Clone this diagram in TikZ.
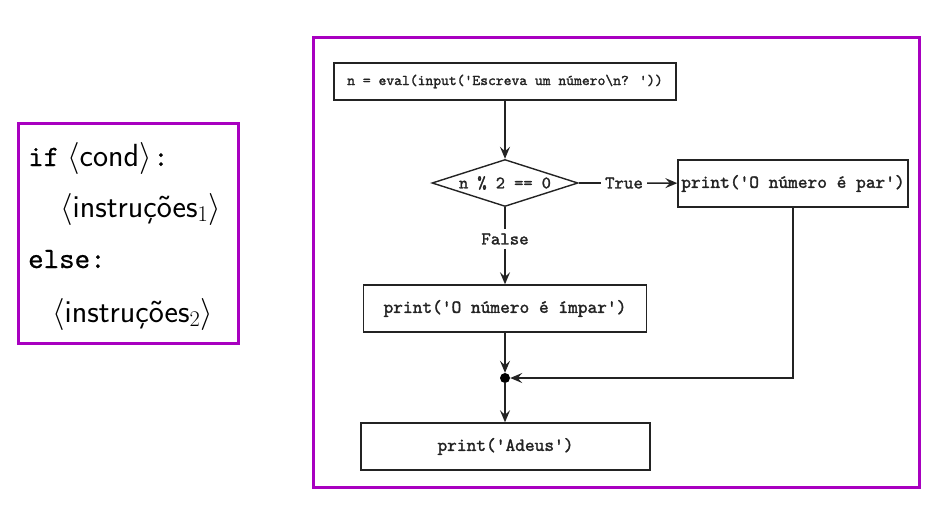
\RequirePackage{fix-cm}
\documentclass[tikz,border=0pt]{standalone}
\usepackage{fontspec}
\newfontfamily\cour{lmmono10-regular.otf}[FakeBold=1.6]
\newfontfamily\courl{lmmono10-regular.otf}[FakeBold=0.7]
\usetikzlibrary{shapes.geometric,arrows.meta}
\definecolor{frame}{RGB}{168,0,192}
\definecolor{ink}{RGB}{35,35,35}
\begin{document}
\begin{tikzpicture}[x=1pt,y=-1pt,
  frm/.style={draw=frame, line width=3pt, rectangle, inner sep=0pt},
  box/.style={draw=ink, line width=1.4pt, rectangle, inner sep=0pt, text=ink},
  lbl/.style={text=ink, inner sep=4pt, font=\cour\fontsize{18}{20}\selectfont},
  ln/.style={draw=ink, line width=1.4pt},
  arr/.style={draw=ink, line width=1.4pt, -{Stealth[length=12pt,width=10pt,inset=4.5pt]}},
  code/.style={anchor=base west, inner sep=0pt, text=black},
  mono/.style={font=\courl\fontsize{29.5}{32}\selectfont},
  sans/.style={font=\sffamily\fontsize{32}{34}\selectfont},
  big/.style={font=\cour\fontsize{18.5}{20}\selectfont}]
\useasboundingbox (0,0) rectangle (942,514);
% left frame
\node[frm, minimum width=220pt, minimum height=220pt] (left) at (128,233) {};
\node[code, mono] (l1a) at (28,166) {if};
\node[code, sans] (l1b) at (67,166) {$\langle$cond$\rangle$};
\node[code, mono] (l1c) at (153,166) {:};
\node[code, sans] (l2) at (60,217) {$\langle$instruções$_1\rangle$};
\node[code, mono] (l3) at (28,268) {else:};
\node[code, sans] (l4) at (52,322) {$\langle$instruções$_2\rangle$};
% right frame
\node[frm, minimum width=606pt, minimum height=450pt] (right) at (616,262) {};
% flowchart
\node[box, minimum width=342pt, minimum height=37pt, font=\cour\fontsize{14.9}{16}\selectfont] (inp) at (505,81.5) {n = eval(input('Escreva um número\textbackslash n? '))};
\node[draw=ink, line width=1.4pt, diamond, aspect=3, inner sep=0pt, minimum width=146pt, minimum height=47pt, text=ink, font=\cour\fontsize{17.5}{19}\selectfont] (dia) at (505,183) {n \% 2 == 0};
\node[lbl] (tl) at (624,183) {True};
\node[lbl] (fl) at (505,239) {False};
\node[box, big, minimum width=230pt, minimum height=47pt] (par) at (793,183.5) {print('O número é par')};
\node[box, big, minimum width=283pt, minimum height=47pt] (imp) at (505,308.5) {print('O número é ímpar')};
\node[circle, fill=black, inner sep=0pt, minimum size=10pt] (dot) at (505,378) {};
\node[box, big, minimum width=289pt, minimum height=47pt] (ad) at (505.5,446.5) {print('Adeus')};
\draw[arr] (inp) -- (dia);
\draw[ln] (dia) -- (tl);
\draw[arr] (tl) -- (par);
\draw[ln] (dia) -- (fl);
\draw[arr] (fl) -- (imp);
\draw[arr] (imp) -- (dot);
\draw[arr] (par.south) |- (dot);
\draw[arr] (dot) -- (ad.north -| dot);
\end{tikzpicture}
\end{document}
